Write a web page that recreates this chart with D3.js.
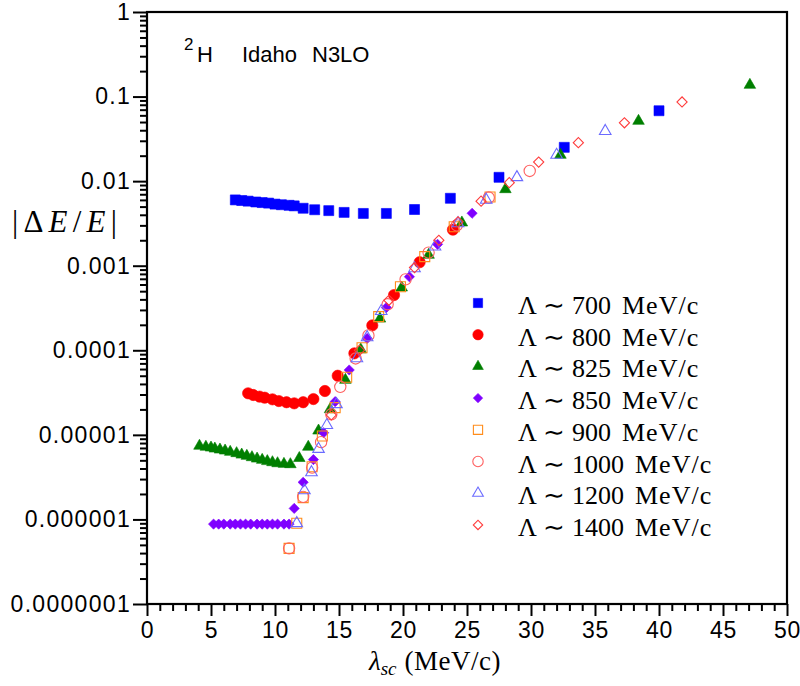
<!DOCTYPE html>
<html>
<head>
<meta charset="utf-8">
<script src="https://cdn.jsdelivr.net/npm/d3@7/dist/d3.min.js"></script>
<style>
  body { margin: 0; background: #fff; }
  svg { display: block; }
  .sans { font-family: "Liberation Sans", Arial, Helvetica, sans-serif; }
  .serif { font-family: "Liberation Serif", "Times New Roman", serif; }
</style>
</head>
<body>
<svg id="chart" width="800" height="686"></svg>
<script>
// Relative error of the deuteron binding energy vs. the scale lambda_sc,
// for the Idaho N3LO interaction at several cutoffs Lambda.

const xMajorTicks = [0, 5, 10, 15, 20, 25, 30, 35, 40, 45, 50];
const yDecades = [1e-7, 1e-6, 1e-5, 1e-4, 1e-3, 1e-2, 1e-1, 1];
const yTickLabels = ["0.0000001", "0.000001", "0.00001", "0.0001", "0.001", "0.01", "0.1", "1"];

const cutoffLabels = ["700", "800", "825", "850", "900", "1000", "1200", "1400"];

const lam700X = [6.9, 7.4, 7.9, 8.5, 9.0, 9.5, 10.0, 10.5, 11.1, 11.5, 12.2, 13.1, 14.2, 15.4, 16.9, 18.7, 20.9, 23.7, 27.5, 32.6, 40.0];
const lam700Y = [6.0e-3, 5.9e-3, 5.8e-3, 5.67e-3, 5.58e-3, 5.5e-3, 5.35e-3, 5.26e-3, 5.18e-3, 5.1e-3, 4.78e-3, 4.59e-3, 4.48e-3, 4.27e-3, 4.15e-3, 4.15e-3, 4.62e-3, 6.27e-3, 1.11e-2, 2.51e-2, 6.8e-2];

const lam800X = [7.9, 8.3, 8.8, 9.2, 9.8, 10.3, 10.9, 11.5, 12.2, 13.0, 13.9, 14.9, 16.2, 17.6, 19.3, 21.3, 23.9];
const lam800Y = [3.1e-5, 2.96e-5, 2.83e-5, 2.75e-5, 2.63e-5, 2.51e-5, 2.43e-5, 2.36e-5, 2.43e-5, 2.65e-5, 3.3e-5, 5.0e-5, 9.2e-5, 1.97e-4, 4.5e-4, 1.1e-3, 2.67e-3];

const lam825X = [4.1, 4.6, 5.0, 5.3, 5.7, 6.1, 6.5, 7.0, 7.4, 7.8, 8.2, 8.6, 9.0, 9.4, 9.8, 10.2, 10.7, 11.2, 11.9, 12.6, 13.4, 14.3, 15.5, 16.7, 18.2, 19.9, 22.0, 24.6, 28.0, 32.3, 38.4, 47.1];
const lam825Y = [7.4e-6, 7.2e-6, 7.05e-6, 6.86e-6, 6.68e-6, 6.5e-6, 6.27e-6, 6.05e-6, 5.82e-6, 5.62e-6, 5.42e-6, 5.22e-6, 5.04e-6, 4.87e-6, 4.73e-6, 4.6e-6, 4.52e-6, 4.48e-6, 5.3e-6, 7.2e-6, 1.12e-5, 2.0e-5, 4.45e-5, 1.02e-4, 2.36e-4, 5.5e-4, 1.34e-3, 3.23e-3, 8.0e-3, 2.04e-2, 5.14e-2, 0.137];

const lam850X = [5.2, 5.6, 6.0, 6.5, 6.9, 7.3, 7.7, 8.1, 8.6, 9.0, 9.4, 9.8, 10.2, 10.7, 11.1, 11.5, 12.2, 13.0, 13.8, 14.7, 15.8, 17.2, 18.7, 20.5, 22.7, 25.4];
const lam850Y = [8.8e-7, 8.8e-7, 8.8e-7, 8.8e-7, 8.8e-7, 8.8e-7, 8.8e-7, 8.8e-7, 8.8e-7, 8.8e-7, 8.8e-7, 8.8e-7, 8.8e-7, 8.8e-7, 8.8e-7, 1.35e-6, 2.75e-6, 5.1e-6, 1.06e-5, 2.47e-5, 5.85e-5, 1.38e-4, 3.2e-4, 7.4e-4, 1.79e-3, 4.17e-3];

const lam900X = [11.1, 11.7, 12.2, 12.9, 13.7, 14.7, 15.6, 16.8, 18.1, 19.8, 21.7, 24.0, 26.8];
const lam900Y = [4.55e-7, 9.0e-7, 1.81e-6, 4.2e-6, 9.7e-6, 2.1e-5, 4.8e-5, 1.07e-4, 2.5e-4, 5.65e-4, 1.28e-3, 2.89e-3, 6.5e-3];

const lam1000X = [11.1, 12.2, 12.9, 13.6, 14.4, 15.1, 16.3, 17.3, 18.8, 20.2, 22.0, 24.2, 26.7, 29.9];
const lam1000Y = [4.55e-7, 1.85e-6, 4.1e-6, 8.2e-6, 1.75e-5, 3.7e-5, 8.0e-5, 1.5e-4, 3.5e-4, 6.9e-4, 1.43e-3, 3.0e-3, 6.4e-3, 1.32e-2];

const lam1200X = [11.7, 12.3, 12.85, 13.4, 14.05, 14.8, 16.4, 17.2, 18.3, 20.9, 22.5, 24.3, 26.5, 28.9, 32.0, 35.8];
const lam1200Y = [9.0e-7, 2.2e-6, 3.6e-6, 6.8e-6, 1.3e-5, 2.3e-5, 8.0e-5, 1.42e-4, 2.9e-4, 9.3e-4, 1.68e-3, 3.17e-3, 6.0e-3, 1.11e-2, 2.04e-2, 3.9e-2];

const lam1400X = [14.4, 16.6, 18.9, 20.9, 22.8, 24.3, 26.1, 28.3, 30.6, 33.7, 37.3, 41.8];
const lam1400Y = [1.72e-5, 1.0e-4, 3.9e-4, 9.5e-4, 2.0e-3, 3.3e-3, 5.8e-3, 9.6e-3, 1.68e-2, 2.85e-2, 4.9e-2, 8.63e-2];

// marker styles per cutoff
const styles = [
  { shape: "square",   filled: true,  color: "#0000ff" },
  { shape: "circle",   filled: true,  color: "#ff0000" },
  { shape: "triangle", filled: true,  color: "#007f00" },
  { shape: "diamond",  filled: true,  color: "#7f00ff" },
  { shape: "square",   filled: false, color: "#ff8c1a" },
  { shape: "circle",   filled: false, color: "#ff6060" },
  { shape: "triangle", filled: false, color: "#6b6bff" },
  { shape: "diamond",  filled: false, color: "#ff3b3b" }
];

const seriesX = [lam700X, lam800X, lam825X, lam850X, lam900X, lam1000X, lam1200X, lam1400X];
const seriesY = [lam700Y, lam800Y, lam825Y, lam850Y, lam900Y, lam1000Y, lam1200Y, lam1400Y];
const series = cutoffLabels.map((lab, i) => ({
  label: lab,
  style: styles[i],
  points: seriesX[i].map((x, j) => ({ x: x, y: seriesY[i][j] }))
}));

const svg = d3.select("#chart");
const plotLeft = 147, plotRight = 787, plotTop = 12, plotBottom = 604;

const x = d3.scaleLinear().domain([0, 50]).range([plotLeft, plotRight]);
const y = d3.scaleLog().domain([1e-7, 1]).range([plotBottom, plotTop]);

// symbol generators
function symbolPath(shape, scale) {
  const s = scale || 1;
  if (shape === "square") return d3.symbol().type(d3.symbolSquare).size(100 * s)();
  if (shape === "circle") return d3.symbol().type(d3.symbolCircle).size(100 * s)();
  if (shape === "triangle") return d3.symbol().type(d3.symbolTriangle).size(58 * s)();
  return d3.symbol().type(d3.symbolSquare).size(52 * s)();
}
function markerTransform(shape, px, py) {
  return shape === "diamond" ? `translate(${px},${py}) rotate(45)` : `translate(${px},${py})`;
}

// data markers
const plot = svg.append("g");
series.forEach(s => {
  const st = s.style;
  plot.append("g").selectAll("path")
    .data(s.points)
    .join("path")
    .attr("d", symbolPath(st.shape, 1))
    .attr("transform", d => markerTransform(st.shape, x(d.x), y(d.y)))
    .attr("fill", st.filled ? st.color : "none")
    .attr("stroke", st.color)
    .attr("stroke-width", st.filled ? 0.6 : 1.1);
});

// axes
const axisG = svg.append("g").attr("class", "sans");

const xMinor = d3.range(0, 51).filter(v => v % 5 !== 0);
axisG.append("g")
  .attr("transform", `translate(0,${plotBottom})`)
  .call(d3.axisBottom(x).tickValues(xMinor).tickSize(7).tickFormat(""));
const xMajorAxis = axisG.append("g")
  .attr("transform", `translate(0,${plotBottom})`)
  .call(d3.axisBottom(x).tickValues(xMajorTicks).tickSize(12).tickPadding(6).tickFormat(d => String(d)));

const yMinor = y.ticks().filter(v => !yDecades.some(d => Math.abs(v / d - 1) < 1e-6));
axisG.append("g")
  .attr("transform", `translate(${plotLeft},0)`)
  .call(d3.axisLeft(y).tickValues(yMinor).tickSize(7).tickFormat(""));
const yMajorAxis = axisG.append("g")
  .attr("transform", `translate(${plotLeft},0)`)
  .call(d3.axisLeft(y).tickValues(yDecades).tickSize(14).tickPadding(2)
    .tickFormat((d, i) => yTickLabels[i]));

axisG.selectAll(".domain").remove();
axisG.selectAll(".tick line").attr("stroke", "#000").attr("stroke-width", 2);
axisG.selectAll(".tick text")
  .attr("fill", "#000")
  .style("font-size", "23px")
  .style("font-family", "'Liberation Sans', Arial, Helvetica, sans-serif");
yMajorAxis.selectAll(".tick text").style("letter-spacing", "1.3px");
xMajorAxis.selectAll(".tick text").style("letter-spacing", "0.8px");

// frame
svg.append("rect")
  .attr("x", plotLeft).attr("y", plotTop)
  .attr("width", plotRight - plotLeft).attr("height", plotBottom - plotTop)
  .attr("fill", "none").attr("stroke", "#000").attr("stroke-width", 2.2);

// title
const title = svg.append("g").attr("class", "sans").attr("fill", "#000");
title.append("text").attr("x", 184).attr("y", 50).style("font-size", "17px").text("2");
title.append("text").attr("x", 197).attr("y", 62).style("font-size", "22px").text("H");
title.append("text").attr("x", 242).attr("y", 62).style("font-size", "22px").text("Idaho");
title.append("text").attr("x", 312).attr("y", 62).style("font-size", "22px").text("N3LO");

// y-axis label |ΔE/E|
const yl = svg.append("text").attr("class", "serif")
  .attr("x", 12).attr("y", 232)
  .attr("fill", "#000")
  .attr("textLength", 105).attr("lengthAdjust", "spacing")
  .style("font-size", "31px");
yl.append("tspan").text("|Δ");
yl.append("tspan").style("font-style", "italic").text("E");
yl.append("tspan").text("/");
yl.append("tspan").style("font-style", "italic").text("E");
yl.append("tspan").text("|");

// x-axis label λ_sc (MeV/c)
const xl = svg.append("text").attr("class", "serif")
  .attr("x", 369).attr("y", 670)
  .attr("fill", "#000")
  .style("font-size", "27px");
xl.append("tspan").style("font-style", "italic").text("λ");
xl.append("tspan").style("font-style", "italic").style("font-size", "19px").attr("dy", 5).text("sc");
xl.append("tspan").attr("dy", -5).attr("dx", 8).style("letter-spacing", "0.5px").text("(MeV/c)");

// legend
const legend = svg.append("g").attr("class", "serif");
series.forEach((s, i) => {
  const cy = 305 + i * 31.7;
  const st = s.style;
  legend.append("path")
    .attr("d", symbolPath(st.shape, 0.85))
    .attr("transform", markerTransform(st.shape, 478, cy - 2))
    .attr("fill", st.filled ? st.color : "none")
    .attr("stroke", st.color)
    .attr("stroke-width", st.filled ? 0.6 : 1.1);
  const t = legend.append("g").style("font-size", "26px").attr("fill", "#000");
  t.append("text").attr("x", 518).attr("y", cy + 9).text("Λ");
  t.append("text").attr("x", 543).attr("y", cy + 9).text("∼");
  const num = t.append("text").attr("x", 572).attr("y", cy + 9).text(s.label);
  const w = num.node().getComputedTextLength();
  t.append("text").attr("x", 572 + w + 11).attr("y", cy + 9)
    .style("letter-spacing", "1px").text("MeV/c");
});
</script>
</body>
</html>
